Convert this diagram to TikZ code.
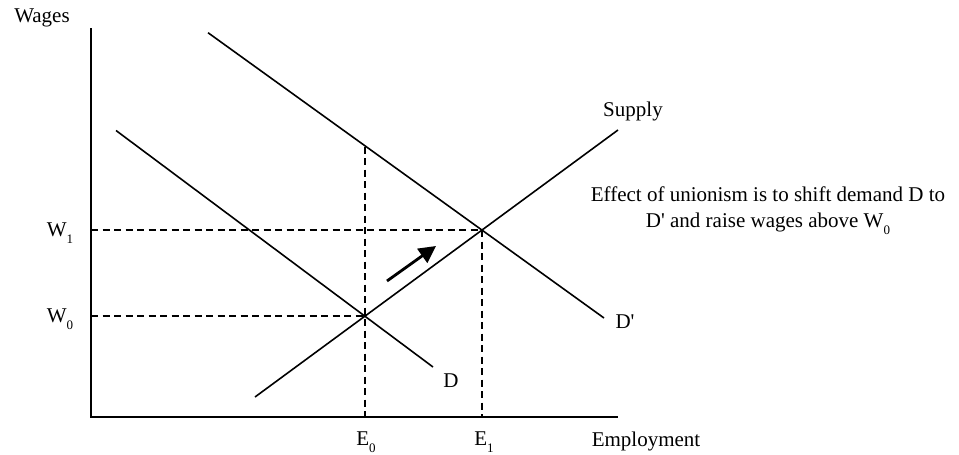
\documentclass[tikz,border=0pt]{standalone}
\usepackage{fontspec}
\setmainfont{Liberation Serif}[Ligatures=TeXOff]
\usetikzlibrary{arrows.meta}
\newcommand{\sbx}[1]{\raisebox{-0.33em}{\fontsize{13}{13}\selectfont #1}}
\begin{document}
\begin{tikzpicture}[x=1pt,y=-1pt,
  lbl/.style={inner sep=0pt,font=\fontsize{21}{26}\selectfont},
  axisline/.style={line width=2pt},
  curve/.style={line width=1.6pt},
  guide/.style={line width=1.5pt,dash pattern=on 7pt off 4.5pt},
  shiftarrow/.style={line width=2.8pt,-{Triangle[length=17pt,width=17pt]}}]
\useasboundingbox (0,0) rectangle (959,455);
% coordinates
\coordinate (O) at (91,417);
\coordinate (Ytop) at (91,28);
\coordinate (Xend) at (618,417);
\coordinate (P0) at (365,316);
\coordinate (P1) at (482,230);
\coordinate (Pd) at (365,146.7);
\coordinate (W0a) at (91,316);
\coordinate (W1a) at (91,230);
\coordinate (E0a) at (365,417);
\coordinate (E1a) at (482,417);
\coordinate (Sa) at (255,397);
\coordinate (Sb) at (618,130);
\coordinate (Da) at (116,130.5);
\coordinate (Db) at (433,367);
\coordinate (DPa) at (208,32.7);
\coordinate (DPb) at (604,318);
\coordinate (Ar1) at (387,281);
\coordinate (Ar2) at (436,246);
% axes
\draw[axisline] (Ytop) -- (O) -- (Xend);
% guides
\draw[guide] (W0a) -- (P0);
\draw[guide] (W1a) -- (P1);
\draw[guide] (Pd) -- (E0a);
\draw[guide] (P1) -- (E1a);
% curves
\draw[curve] (Sa) -- (Sb);
\draw[curve] (Da) -- (Db);
\draw[curve] (DPa) -- (DPb);
% arrow
\draw[shiftarrow] (Ar1) -- (Ar2);
% labels
\node[lbl] (wages) at (42,18) {Wages};
\node[lbl] (w1) at (60,233) {W\sbx{1}};
\node[lbl] (w0) at (60,319) {W\sbx{0}};
\node[lbl] (e0) at (366,442) {E\sbx{0}};
\node[lbl] (e1) at (484,442) {E\sbx{1}};
\node[lbl] (emp) at (646,441) {Employment};
\node[lbl] (dl) at (451,381) {D};
\node[lbl] (dpl) at (625,322) {D'};
\node[lbl] (sup) at (633,111) {Supply};
\node[lbl,align=center] (eff) at (768,211) {Effect of unionism is to shift demand D to\\D' and raise wages above W\sbx{0}};
\end{tikzpicture}
\end{document}
